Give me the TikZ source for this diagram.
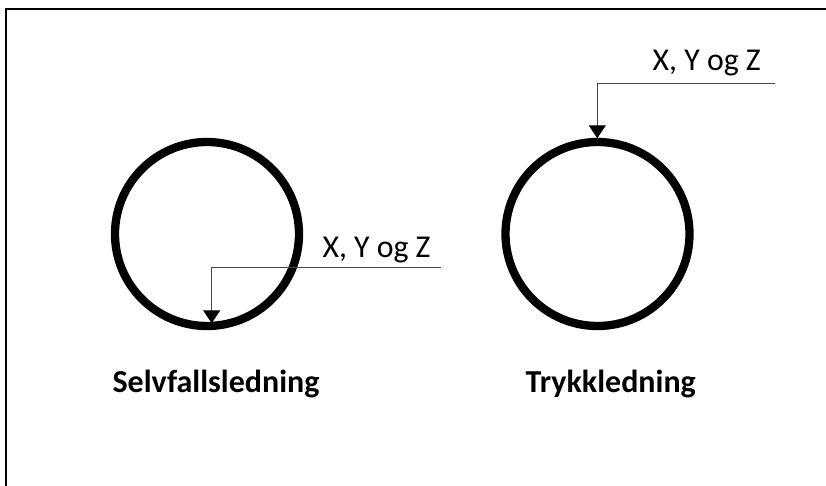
\documentclass[tikz,border=0pt]{standalone}
\usepackage{fontspec}
\setmainfont{Carlito}
\usetikzlibrary{arrows.meta}
\definecolor{leadgray}{RGB}{70,70,70}
\tikzset{
  pipe/.style={circle, draw=black, line width=8.3pt, inner sep=0pt, minimum size=184pt},
  leader/.style={draw=leadgray, line width=1.1pt, -{Triangle[width=17pt,length=13pt,color=black]}},
  coordtxt/.style={anchor=base west, inner sep=0pt, font=\fontsize{31.8}{36}\selectfont},
  title/.style={anchor=base west, inner sep=0pt, font=\bfseries\fontsize{32}{38}\selectfont},
}
\begin{document}
\begin{tikzpicture}[x=1pt,y=-1pt]
\useasboundingbox (0,0) rectangle (826,486);
\begin{scope}
\clip (0,0) rectangle (826,486);
\draw[line width=2pt] (6,500) -- (6,9.5) -- (840,9.5);
\end{scope}
\node[pipe] (c1) at (207,234) {};
\node[pipe] (c2) at (597.5,234) {};
\node[coordtxt] (t1) at (322.3,257) {X, Y og Z};
\node[coordtxt] (t2) at (652.5,70.5) {X, Y og Z};
\node[title] (n1) at (112.4,392.7) {Selvfallsledning};
\node[title] (n2) at (525.5,392.7) {Trykkledning};
\coordinate (e1) at (440.7,267.8);
\coordinate (k1) at (211.7,267.8);
\coordinate (p1) at (211.7,323.3);
\coordinate (e2) at (774.5,83.3);
\coordinate (k2) at (597.3,83.3);
\coordinate (p2) at (597.3,138.3);
\draw[leader] (e1) -- (k1) -- (p1);
\draw[leader] (e2) -- (k2) -- (p2);
\end{tikzpicture}
\end{document}
